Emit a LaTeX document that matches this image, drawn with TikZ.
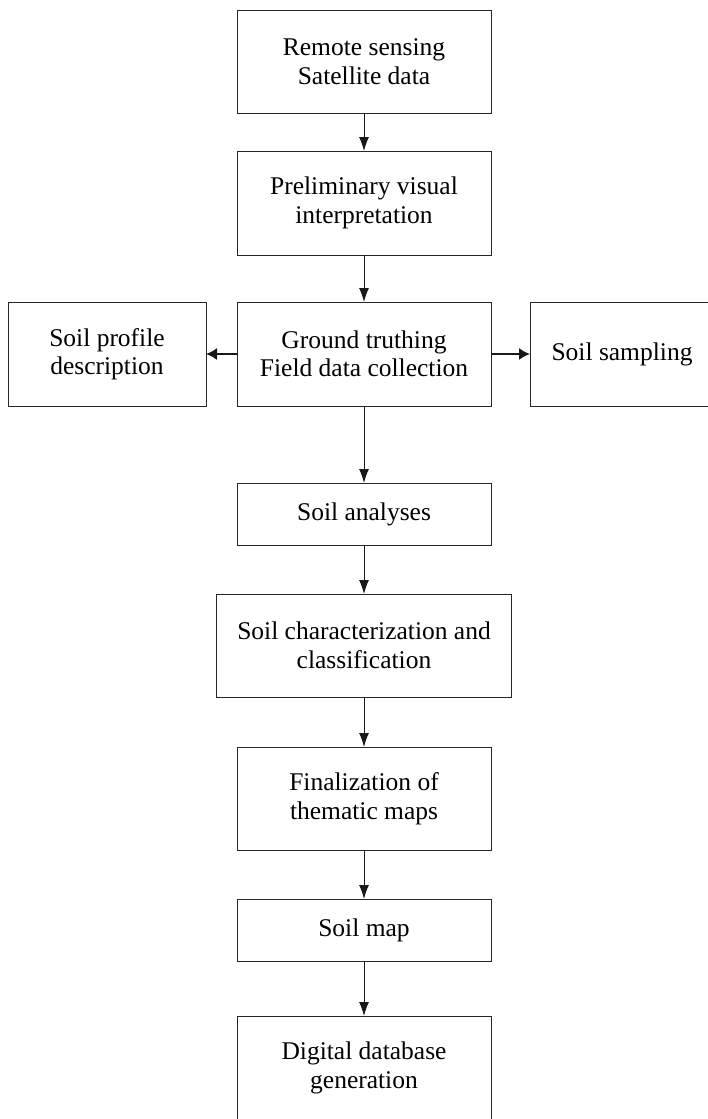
\documentclass[tikz,border=0pt]{standalone}
\usepackage{fontspec}
\setmainfont{Liberation Serif}
\usetikzlibrary{arrows.meta}
\begin{document}
\begin{tikzpicture}[x=1pt,y=1pt,
  box/.style={draw=black!85, line width=1pt, inner sep=0pt, outer sep=0pt, align=center,
    font=\fontsize{25.5}{28.5}\selectfont, text=black},
  flow/.style={draw=black!90, line width=1pt, -{Latex[length=14pt,width=10pt]}},
  side/.style={draw=black!90, line width=1.6pt, -{Latex[length=11pt,width=12pt]}}]
\useasboundingbox (0,0) rectangle (708,-1119);
\begin{scope}
\clip (0,0) rectangle (708,-1119);
\node[box, minimum width=254pt, minimum height=103pt] (b1) at (364,-61.5) {Remote sensing\\Satellite data};
\node[box, minimum width=254pt, minimum height=104pt] (b2) at (364,-203) {Preliminary visual\\interpretation};
\node[box, minimum width=254pt, minimum height=104pt] (b3) at (364,-354) {Ground truthing\\Field data collection};
\node[box, minimum width=198pt, minimum height=104pt] (l) at (107,-354) {Soil profile\\description};
\node[box, minimum width=184pt, minimum height=104pt] (r) at (622,-354) {Soil sampling};
\node[box, minimum width=254pt, minimum height=62pt] (b4) at (364,-514) {Soil analyses};
\node[box, minimum width=295pt, minimum height=103pt] (b5) at (364,-645.5) {Soil characterization and\\classification};
\node[box, minimum width=254pt, minimum height=103pt] (b6) at (364,-798.5) {Finalization of\\thematic maps};
\node[box, minimum width=254pt, minimum height=62pt] (b7) at (364,-930) {Soil map};
\node[box, minimum width=254pt, minimum height=104pt] (b8) at (364,-1068) {Digital database\\generation};
\draw[flow] (b1) -- (b2);
\draw[flow] (b2) -- (b3);
\draw[flow] (b3) -- (b4);
\draw[flow] (b4) -- (b5);
\draw[flow] (b5) -- (b6);
\draw[flow] (b6) -- (b7);
\draw[flow] (b7) -- (b8);
\draw[side] (b3) -- (l);
\draw[side] (b3) -- (r);
\end{scope}
\end{tikzpicture}
\end{document}
